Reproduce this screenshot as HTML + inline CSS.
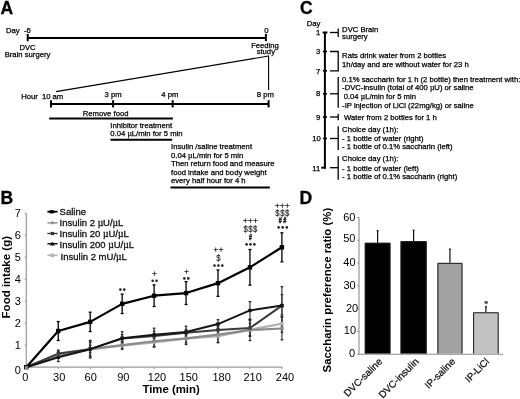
<!DOCTYPE html>
<html><head><meta charset="utf-8"><title>Figure</title>
<style>
html,body{margin:0;padding:0;background:#fff;}
body{width:520px;height:399px;overflow:hidden;}
svg{display:block;font-family:"Liberation Sans",sans-serif;filter:grayscale(1);}
</style></head>
<body>
<svg width="520" height="399" viewBox="0 0 520 399">
<rect width="520" height="399" fill="#fff"/>
<text x="0.50" y="14.20" font-size="17.50" font-weight="bold" fill="#000" stroke="#000" stroke-width="0.30">A</text>
<text x="0.40" y="203.80" font-size="17.50" font-weight="bold" fill="#000" stroke="#000" stroke-width="0.30">B</text>
<text x="299.90" y="14.30" font-size="17.50" font-weight="bold" fill="#000" stroke="#000" stroke-width="0.30">C</text>
<text x="299.60" y="203.90" font-size="17.50" font-weight="bold" fill="#000" stroke="#000" stroke-width="0.30">D</text>
<text x="6.00" y="32.70" font-size="7.68" fill="#000" stroke="#000" stroke-width="0.25">Day</text>
<text x="24.00" y="32.70" font-size="7.68" fill="#000" stroke="#000" stroke-width="0.25">-6</text>
<line x1="27.70" y1="37.90" x2="265.90" y2="37.90" stroke="#000" stroke-width="2.00"/>
<line x1="27.70" y1="34.00" x2="27.70" y2="41.20" stroke="#000" stroke-width="2.00"/>
<line x1="265.90" y1="34.00" x2="265.90" y2="41.20" stroke="#000" stroke-width="2.00"/>
<text x="266.50" y="32.80" font-size="7.68" text-anchor="middle" fill="#000" stroke="#000" stroke-width="0.25">0</text>
<text x="27.50" y="49.90" font-size="7.68" text-anchor="middle" fill="#000" stroke="#000" stroke-width="0.25">DVC</text>
<text x="27.50" y="56.50" font-size="7.68" text-anchor="middle" fill="#000" stroke="#000" stroke-width="0.25">Brain surgery</text>
<text x="265.00" y="47.60" font-size="7.68" text-anchor="middle" fill="#000" stroke="#000" stroke-width="0.25">Feeding</text>
<text x="265.80" y="53.80" font-size="7.68" text-anchor="middle" fill="#000" stroke="#000" stroke-width="0.25">study</text>
<line x1="56.00" y1="91.60" x2="268.60" y2="56.00" stroke="#000" stroke-width="1.10"/>
<line x1="268.60" y1="55.60" x2="268.60" y2="90.00" stroke="#000" stroke-width="1.10"/>
<text x="21.30" y="98.70" font-size="7.68" fill="#000" stroke="#000" stroke-width="0.25">Hour</text>
<text x="41.90" y="98.70" font-size="7.68" fill="#000" stroke="#000" stroke-width="0.25">10 am</text>
<text x="113.10" y="97.30" font-size="7.68" text-anchor="middle" fill="#000" stroke="#000" stroke-width="0.25">3 pm</text>
<text x="169.80" y="97.30" font-size="7.68" text-anchor="middle" fill="#000" stroke="#000" stroke-width="0.25">4 pm</text>
<text x="265.40" y="96.70" font-size="7.68" text-anchor="middle" fill="#000" stroke="#000" stroke-width="0.25">8 pm</text>
<line x1="51.00" y1="103.90" x2="268.60" y2="103.90" stroke="#000" stroke-width="2.00"/>
<line x1="51.00" y1="100.20" x2="51.00" y2="107.40" stroke="#000" stroke-width="2.00"/>
<line x1="113.10" y1="100.20" x2="113.10" y2="107.40" stroke="#000" stroke-width="2.00"/>
<line x1="172.70" y1="100.20" x2="172.70" y2="107.40" stroke="#000" stroke-width="2.00"/>
<line x1="268.60" y1="100.20" x2="268.60" y2="107.40" stroke="#000" stroke-width="2.00"/>
<text x="82.80" y="115.80" font-size="7.68" fill="#000" stroke="#000" stroke-width="0.25">Remove food</text>
<line x1="49.20" y1="118.50" x2="172.90" y2="118.50" stroke="#000" stroke-width="2.00"/>
<text x="110.30" y="127.50" font-size="7.68" fill="#000" stroke="#000" stroke-width="0.25">Inhibitor treatment</text>
<text x="110.30" y="135.90" font-size="7.68" fill="#000" stroke="#000" stroke-width="0.25">0.04 <tspan font-family="Liberation Serif">µ</tspan>L/min for 5 min</text>
<line x1="110.50" y1="139.70" x2="172.20" y2="139.70" stroke="#000" stroke-width="2.00"/>
<text x="171.00" y="149.00" font-size="7.68" fill="#000" stroke="#000" stroke-width="0.25">Insulin /saline treatment</text>
<text x="171.00" y="157.50" font-size="7.68" fill="#000" stroke="#000" stroke-width="0.25">0.04 <tspan font-family="Liberation Serif">µ</tspan>L/min for 5 min</text>
<text x="171.00" y="166.00" font-size="7.68" fill="#000" stroke="#000" stroke-width="0.25">Then return food and measure</text>
<text x="171.00" y="174.50" font-size="7.68" fill="#000" stroke="#000" stroke-width="0.25">food intake and body weight</text>
<text x="171.00" y="183.00" font-size="7.68" fill="#000" stroke="#000" stroke-width="0.25">every half hour for 4 h</text>
<line x1="170.50" y1="187.60" x2="269.80" y2="187.60" stroke="#000" stroke-width="2.00"/>
<text x="306.80" y="25.70" font-size="7.68" fill="#000" stroke="#000" stroke-width="0.25">Day</text>
<line x1="324.90" y1="32.30" x2="324.90" y2="168.60" stroke="#000" stroke-width="2.00"/>
<line x1="322.60" y1="32.50" x2="327.40" y2="32.50" stroke="#000" stroke-width="2.00"/>
<line x1="321.30" y1="167.70" x2="325.90" y2="167.70" stroke="#000" stroke-width="2.00"/>
<text x="320.30" y="35.10" font-size="7.68" text-anchor="end" fill="#000" stroke="#000" stroke-width="0.25">1</text>
<text x="320.30" y="54.10" font-size="7.68" text-anchor="end" fill="#000" stroke="#000" stroke-width="0.25">3</text>
<line x1="322.90" y1="51.50" x2="327.00" y2="51.50" stroke="#000" stroke-width="1.60"/>
<text x="320.30" y="74.10" font-size="7.68" text-anchor="end" fill="#000" stroke="#000" stroke-width="0.25">7</text>
<line x1="322.90" y1="70.80" x2="327.00" y2="70.80" stroke="#000" stroke-width="1.60"/>
<text x="320.30" y="96.40" font-size="7.68" text-anchor="end" fill="#000" stroke="#000" stroke-width="0.25">8</text>
<line x1="322.90" y1="93.80" x2="327.00" y2="93.80" stroke="#000" stroke-width="1.60"/>
<text x="320.30" y="119.60" font-size="7.68" text-anchor="end" fill="#000" stroke="#000" stroke-width="0.25">9</text>
<line x1="322.90" y1="117.00" x2="327.00" y2="117.00" stroke="#000" stroke-width="1.60"/>
<text x="320.70" y="141.10" font-size="7.68" text-anchor="end" fill="#000" stroke="#000" stroke-width="0.25">10</text>
<line x1="322.90" y1="138.50" x2="327.00" y2="138.50" stroke="#000" stroke-width="1.60"/>
<text x="320.30" y="171.00" font-size="7.68" text-anchor="end" fill="#000" stroke="#000" stroke-width="0.25">11</text>
<line x1="330.00" y1="32.50" x2="338.20" y2="32.50" stroke="#000" stroke-width="1.30"/>
<line x1="338.20" y1="28.50" x2="338.20" y2="37.00" stroke="#000" stroke-width="1.30"/>
<polyline points="330.00,51.50 338.20,51.50 338.20,70.80 330.00,70.80" fill="none" stroke="#000" stroke-width="1.30"/>
<line x1="330.00" y1="93.80" x2="338.20" y2="93.80" stroke="#000" stroke-width="1.30"/>
<line x1="338.20" y1="76.90" x2="338.20" y2="107.70" stroke="#000" stroke-width="1.30"/>
<line x1="330.00" y1="117.00" x2="338.20" y2="117.00" stroke="#000" stroke-width="1.30"/>
<line x1="338.20" y1="113.80" x2="338.20" y2="120.20" stroke="#000" stroke-width="1.30"/>
<line x1="330.00" y1="138.50" x2="338.20" y2="138.50" stroke="#000" stroke-width="1.30"/>
<line x1="338.20" y1="126.20" x2="338.20" y2="150.00" stroke="#000" stroke-width="1.30"/>
<line x1="330.00" y1="167.70" x2="338.20" y2="167.70" stroke="#000" stroke-width="1.30"/>
<line x1="338.20" y1="156.00" x2="338.20" y2="179.70" stroke="#000" stroke-width="1.30"/>
<text x="342.10" y="32.00" font-size="7.68" fill="#000" stroke="#000" stroke-width="0.25">DVC Brain</text>
<text x="342.10" y="38.50" font-size="7.68" fill="#000" stroke="#000" stroke-width="0.25">surgery</text>
<text x="342.10" y="58.20" font-size="7.68" fill="#000" stroke="#000" stroke-width="0.25">Rats drink water from 2 bottles</text>
<text x="342.10" y="67.00" font-size="7.68" fill="#000" stroke="#000" stroke-width="0.25">1h/day and are without water for 23 h</text>
<text x="342.10" y="81.50" font-size="7.68" fill="#000" stroke="#000" stroke-width="0.25">0.1% saccharin for 1 h (2 bottle) then treatment with:</text>
<text x="342.10" y="90.30" font-size="7.68" fill="#000" stroke="#000" stroke-width="0.25">-DVC-insulin (total of 400 <tspan font-family="Liberation Serif">µ</tspan>U) or saline</text>
<text x="343.70" y="99.20" font-size="7.68" fill="#000" stroke="#000" stroke-width="0.25">0.04 <tspan font-family="Liberation Serif">µ</tspan>L/min for 5 min</text>
<text x="342.10" y="108.20" font-size="7.68" fill="#000" stroke="#000" stroke-width="0.25">-IP injection of LiCl (22mg/kg) or saline</text>
<text x="344.10" y="119.50" font-size="7.68" fill="#000" stroke="#000" stroke-width="0.25">Water from 2 bottles for 1 h</text>
<text x="342.10" y="131.50" font-size="7.68" fill="#000" stroke="#000" stroke-width="0.25">Choice day (1h):</text>
<text x="342.10" y="140.80" font-size="7.68" fill="#000" stroke="#000" stroke-width="0.25">- 1 bottle of water (right)</text>
<text x="342.10" y="149.30" font-size="7.68" fill="#000" stroke="#000" stroke-width="0.25">- 1 bottle of 0.1% saccharin (left)</text>
<text x="342.10" y="161.20" font-size="7.68" fill="#000" stroke="#000" stroke-width="0.25">Choice day (1h):</text>
<text x="342.10" y="170.50" font-size="7.68" fill="#000" stroke="#000" stroke-width="0.25">- 1 bottle of water (left)</text>
<text x="342.10" y="178.70" font-size="7.68" fill="#000" stroke="#000" stroke-width="0.25">- 1 bottle of 0.1% saccharin (right)</text>
<line x1="26.30" y1="213.30" x2="26.30" y2="367.70" stroke="#9a9a9a" stroke-width="1.20"/>
<line x1="25.80" y1="367.20" x2="282.60" y2="367.20" stroke="#9a9a9a" stroke-width="1.20"/>
<line x1="24.60" y1="345.20" x2="26.30" y2="345.20" stroke="#9a9a9a" stroke-width="1.00"/>
<line x1="24.60" y1="323.20" x2="26.30" y2="323.20" stroke="#9a9a9a" stroke-width="1.00"/>
<line x1="24.60" y1="301.20" x2="26.30" y2="301.20" stroke="#9a9a9a" stroke-width="1.00"/>
<line x1="24.60" y1="279.20" x2="26.30" y2="279.20" stroke="#9a9a9a" stroke-width="1.00"/>
<line x1="24.60" y1="257.20" x2="26.30" y2="257.20" stroke="#9a9a9a" stroke-width="1.00"/>
<line x1="24.60" y1="235.20" x2="26.30" y2="235.20" stroke="#9a9a9a" stroke-width="1.00"/>
<line x1="24.60" y1="213.20" x2="26.30" y2="213.20" stroke="#9a9a9a" stroke-width="1.00"/>
<line x1="58.25" y1="367.20" x2="58.25" y2="369.00" stroke="#9a9a9a" stroke-width="1.00"/>
<line x1="90.20" y1="367.20" x2="90.20" y2="369.00" stroke="#9a9a9a" stroke-width="1.00"/>
<line x1="122.15" y1="367.20" x2="122.15" y2="369.00" stroke="#9a9a9a" stroke-width="1.00"/>
<line x1="154.10" y1="367.20" x2="154.10" y2="369.00" stroke="#9a9a9a" stroke-width="1.00"/>
<line x1="186.05" y1="367.20" x2="186.05" y2="369.00" stroke="#9a9a9a" stroke-width="1.00"/>
<line x1="218.00" y1="367.20" x2="218.00" y2="369.00" stroke="#9a9a9a" stroke-width="1.00"/>
<line x1="249.95" y1="367.20" x2="249.95" y2="369.00" stroke="#9a9a9a" stroke-width="1.00"/>
<line x1="281.90" y1="367.20" x2="281.90" y2="369.00" stroke="#9a9a9a" stroke-width="1.00"/>
<text x="20.80" y="373.50" font-size="11.00" text-anchor="end" fill="#000">0</text>
<text x="20.80" y="349.10" font-size="11.00" text-anchor="end" fill="#000">1</text>
<text x="20.80" y="327.10" font-size="11.00" text-anchor="end" fill="#000">2</text>
<text x="20.80" y="305.10" font-size="11.00" text-anchor="end" fill="#000">3</text>
<text x="20.80" y="283.10" font-size="11.00" text-anchor="end" fill="#000">4</text>
<text x="20.80" y="261.10" font-size="11.00" text-anchor="end" fill="#000">5</text>
<text x="20.80" y="239.10" font-size="11.00" text-anchor="end" fill="#000">6</text>
<text x="20.80" y="217.10" font-size="11.00" text-anchor="end" fill="#000">7</text>
<text x="25.40" y="380.80" font-size="11.00" text-anchor="middle" fill="#000">0</text>
<text x="59.20" y="380.80" font-size="11.00" text-anchor="middle" fill="#000">30</text>
<text x="90.70" y="380.80" font-size="11.00" text-anchor="middle" fill="#000">60</text>
<text x="123.30" y="380.80" font-size="11.00" text-anchor="middle" fill="#000">90</text>
<text x="157.00" y="380.80" font-size="11.00" text-anchor="middle" fill="#000">120</text>
<text x="188.80" y="380.80" font-size="11.00" text-anchor="middle" fill="#000">150</text>
<text x="221.60" y="380.80" font-size="11.00" text-anchor="middle" fill="#000">180</text>
<text x="252.60" y="380.80" font-size="11.00" text-anchor="middle" fill="#000">210</text>
<text x="285.00" y="380.80" font-size="11.00" text-anchor="middle" fill="#000">240</text>
<text x="171.10" y="393.20" font-size="11.40" font-weight="bold" text-anchor="middle" fill="#000">Time (min)</text>
<text transform="translate(10.0,277.2) rotate(-90)" font-size="11.5" font-weight="bold" text-anchor="middle" fill="#000">Food intake (g)</text>
<polyline points="26.30,367.20 58.25,354.66 90.20,349.16 122.15,345.64 154.10,342.34 186.05,338.60 218.00,335.96 249.95,329.80 281.90,323.64" fill="none" stroke="#b4b4b4" stroke-width="2.40" stroke-linejoin="round"/>
<polyline points="26.30,367.20 58.25,355.10 90.20,349.16 122.15,345.20 154.10,341.24 186.05,338.38 218.00,334.64 249.95,330.02 281.90,328.48" fill="none" stroke="#8a8a8a" stroke-width="2.20" stroke-linejoin="round"/>
<polyline points="26.30,367.20 58.25,353.56 90.20,349.16 122.15,338.60 154.10,335.96 186.05,332.66 218.00,330.02 249.95,328.04 281.90,305.60" fill="none" stroke="#3a3a3a" stroke-width="2.00" stroke-linejoin="round"/>
<polyline points="26.30,367.20 58.25,357.30 90.20,349.16 122.15,338.16 154.10,334.86 186.05,332.00 218.00,324.08 249.95,310.44 281.90,305.60" fill="none" stroke="#151515" stroke-width="2.00" stroke-linejoin="round"/>
<line x1="58.25" y1="351.36" x2="58.25" y2="357.96" stroke="#3a3a3a" stroke-width="1.20"/>
<line x1="56.95" y1="351.36" x2="59.55" y2="351.36" stroke="#222" stroke-width="1.30"/>
<line x1="56.95" y1="357.96" x2="59.55" y2="357.96" stroke="#222" stroke-width="1.30"/>
<line x1="90.20" y1="342.56" x2="90.20" y2="355.76" stroke="#3a3a3a" stroke-width="1.20"/>
<line x1="88.90" y1="342.56" x2="91.50" y2="342.56" stroke="#222" stroke-width="1.30"/>
<line x1="88.90" y1="355.76" x2="91.50" y2="355.76" stroke="#222" stroke-width="1.30"/>
<line x1="122.15" y1="342.34" x2="122.15" y2="348.94" stroke="#3a3a3a" stroke-width="1.20"/>
<line x1="120.85" y1="342.34" x2="123.45" y2="342.34" stroke="#222" stroke-width="1.30"/>
<line x1="120.85" y1="348.94" x2="123.45" y2="348.94" stroke="#222" stroke-width="1.30"/>
<line x1="154.10" y1="337.94" x2="154.10" y2="346.74" stroke="#3a3a3a" stroke-width="1.20"/>
<line x1="152.80" y1="337.94" x2="155.40" y2="337.94" stroke="#222" stroke-width="1.30"/>
<line x1="152.80" y1="346.74" x2="155.40" y2="346.74" stroke="#222" stroke-width="1.30"/>
<line x1="186.05" y1="334.20" x2="186.05" y2="343.00" stroke="#3a3a3a" stroke-width="1.20"/>
<line x1="184.75" y1="334.20" x2="187.35" y2="334.20" stroke="#222" stroke-width="1.30"/>
<line x1="184.75" y1="343.00" x2="187.35" y2="343.00" stroke="#222" stroke-width="1.30"/>
<line x1="218.00" y1="329.36" x2="218.00" y2="342.56" stroke="#3a3a3a" stroke-width="1.20"/>
<line x1="216.70" y1="329.36" x2="219.30" y2="329.36" stroke="#222" stroke-width="1.30"/>
<line x1="216.70" y1="342.56" x2="219.30" y2="342.56" stroke="#222" stroke-width="1.30"/>
<line x1="249.95" y1="323.20" x2="249.95" y2="336.40" stroke="#3a3a3a" stroke-width="1.20"/>
<line x1="248.65" y1="323.20" x2="251.25" y2="323.20" stroke="#222" stroke-width="1.30"/>
<line x1="248.65" y1="336.40" x2="251.25" y2="336.40" stroke="#222" stroke-width="1.30"/>
<line x1="281.90" y1="314.84" x2="281.90" y2="332.44" stroke="#3a3a3a" stroke-width="1.20"/>
<line x1="280.60" y1="314.84" x2="283.20" y2="314.84" stroke="#222" stroke-width="1.30"/>
<line x1="280.60" y1="332.44" x2="283.20" y2="332.44" stroke="#222" stroke-width="1.30"/>
<line x1="58.25" y1="351.80" x2="58.25" y2="358.40" stroke="#3a3a3a" stroke-width="1.20"/>
<line x1="56.95" y1="351.80" x2="59.55" y2="351.80" stroke="#222" stroke-width="1.30"/>
<line x1="56.95" y1="358.40" x2="59.55" y2="358.40" stroke="#222" stroke-width="1.30"/>
<line x1="90.20" y1="341.46" x2="90.20" y2="356.86" stroke="#3a3a3a" stroke-width="1.20"/>
<line x1="88.90" y1="341.46" x2="91.50" y2="341.46" stroke="#222" stroke-width="1.30"/>
<line x1="88.90" y1="356.86" x2="91.50" y2="356.86" stroke="#222" stroke-width="1.30"/>
<line x1="122.15" y1="341.46" x2="122.15" y2="348.94" stroke="#3a3a3a" stroke-width="1.20"/>
<line x1="120.85" y1="341.46" x2="123.45" y2="341.46" stroke="#222" stroke-width="1.30"/>
<line x1="120.85" y1="348.94" x2="123.45" y2="348.94" stroke="#222" stroke-width="1.30"/>
<line x1="154.10" y1="335.52" x2="154.10" y2="346.96" stroke="#3a3a3a" stroke-width="1.20"/>
<line x1="152.80" y1="335.52" x2="155.40" y2="335.52" stroke="#222" stroke-width="1.30"/>
<line x1="152.80" y1="346.96" x2="155.40" y2="346.96" stroke="#222" stroke-width="1.30"/>
<line x1="186.05" y1="332.22" x2="186.05" y2="344.54" stroke="#3a3a3a" stroke-width="1.20"/>
<line x1="184.75" y1="332.22" x2="187.35" y2="332.22" stroke="#222" stroke-width="1.30"/>
<line x1="184.75" y1="344.54" x2="187.35" y2="344.54" stroke="#222" stroke-width="1.30"/>
<line x1="218.00" y1="326.72" x2="218.00" y2="342.56" stroke="#3a3a3a" stroke-width="1.20"/>
<line x1="216.70" y1="326.72" x2="219.30" y2="326.72" stroke="#222" stroke-width="1.30"/>
<line x1="216.70" y1="342.56" x2="219.30" y2="342.56" stroke="#222" stroke-width="1.30"/>
<line x1="249.95" y1="319.46" x2="249.95" y2="340.58" stroke="#3a3a3a" stroke-width="1.20"/>
<line x1="248.65" y1="319.46" x2="251.25" y2="319.46" stroke="#222" stroke-width="1.30"/>
<line x1="248.65" y1="340.58" x2="251.25" y2="340.58" stroke="#222" stroke-width="1.30"/>
<line x1="281.90" y1="317.15" x2="281.90" y2="339.81" stroke="#3a3a3a" stroke-width="1.20"/>
<line x1="280.60" y1="317.15" x2="283.20" y2="317.15" stroke="#222" stroke-width="1.30"/>
<line x1="280.60" y1="339.81" x2="283.20" y2="339.81" stroke="#222" stroke-width="1.30"/>
<line x1="58.25" y1="350.04" x2="58.25" y2="357.08" stroke="#3a3a3a" stroke-width="1.20"/>
<line x1="56.95" y1="350.04" x2="59.55" y2="350.04" stroke="#222" stroke-width="1.30"/>
<line x1="56.95" y1="357.08" x2="59.55" y2="357.08" stroke="#222" stroke-width="1.30"/>
<line x1="90.20" y1="345.42" x2="90.20" y2="352.90" stroke="#3a3a3a" stroke-width="1.20"/>
<line x1="88.90" y1="345.42" x2="91.50" y2="345.42" stroke="#222" stroke-width="1.30"/>
<line x1="88.90" y1="352.90" x2="91.50" y2="352.90" stroke="#222" stroke-width="1.30"/>
<line x1="122.15" y1="334.64" x2="122.15" y2="342.56" stroke="#3a3a3a" stroke-width="1.20"/>
<line x1="120.85" y1="334.64" x2="123.45" y2="334.64" stroke="#222" stroke-width="1.30"/>
<line x1="120.85" y1="342.56" x2="123.45" y2="342.56" stroke="#222" stroke-width="1.30"/>
<line x1="154.10" y1="331.12" x2="154.10" y2="340.80" stroke="#3a3a3a" stroke-width="1.20"/>
<line x1="152.80" y1="331.12" x2="155.40" y2="331.12" stroke="#222" stroke-width="1.30"/>
<line x1="152.80" y1="340.80" x2="155.40" y2="340.80" stroke="#222" stroke-width="1.30"/>
<line x1="186.05" y1="329.36" x2="186.05" y2="335.96" stroke="#3a3a3a" stroke-width="1.20"/>
<line x1="184.75" y1="329.36" x2="187.35" y2="329.36" stroke="#222" stroke-width="1.30"/>
<line x1="184.75" y1="335.96" x2="187.35" y2="335.96" stroke="#222" stroke-width="1.30"/>
<line x1="218.00" y1="323.42" x2="218.00" y2="336.62" stroke="#3a3a3a" stroke-width="1.20"/>
<line x1="216.70" y1="323.42" x2="219.30" y2="323.42" stroke="#222" stroke-width="1.30"/>
<line x1="216.70" y1="336.62" x2="219.30" y2="336.62" stroke="#222" stroke-width="1.30"/>
<line x1="249.95" y1="320.34" x2="249.95" y2="335.74" stroke="#3a3a3a" stroke-width="1.20"/>
<line x1="248.65" y1="320.34" x2="251.25" y2="320.34" stroke="#222" stroke-width="1.30"/>
<line x1="248.65" y1="335.74" x2="251.25" y2="335.74" stroke="#222" stroke-width="1.30"/>
<line x1="281.90" y1="294.60" x2="281.90" y2="316.60" stroke="#3a3a3a" stroke-width="1.20"/>
<line x1="280.60" y1="294.60" x2="283.20" y2="294.60" stroke="#222" stroke-width="1.30"/>
<line x1="280.60" y1="316.60" x2="283.20" y2="316.60" stroke="#222" stroke-width="1.30"/>
<line x1="58.25" y1="353.12" x2="58.25" y2="361.48" stroke="#3a3a3a" stroke-width="1.20"/>
<line x1="56.95" y1="353.12" x2="59.55" y2="353.12" stroke="#222" stroke-width="1.30"/>
<line x1="56.95" y1="361.48" x2="59.55" y2="361.48" stroke="#222" stroke-width="1.30"/>
<line x1="90.20" y1="340.36" x2="90.20" y2="357.96" stroke="#3a3a3a" stroke-width="1.20"/>
<line x1="88.90" y1="340.36" x2="91.50" y2="340.36" stroke="#222" stroke-width="1.30"/>
<line x1="88.90" y1="357.96" x2="91.50" y2="357.96" stroke="#222" stroke-width="1.30"/>
<line x1="122.15" y1="331.78" x2="122.15" y2="344.54" stroke="#3a3a3a" stroke-width="1.20"/>
<line x1="120.85" y1="331.78" x2="123.45" y2="331.78" stroke="#222" stroke-width="1.30"/>
<line x1="120.85" y1="344.54" x2="123.45" y2="344.54" stroke="#222" stroke-width="1.30"/>
<line x1="154.10" y1="328.26" x2="154.10" y2="341.46" stroke="#3a3a3a" stroke-width="1.20"/>
<line x1="152.80" y1="328.26" x2="155.40" y2="328.26" stroke="#222" stroke-width="1.30"/>
<line x1="152.80" y1="341.46" x2="155.40" y2="341.46" stroke="#222" stroke-width="1.30"/>
<line x1="186.05" y1="326.28" x2="186.05" y2="337.72" stroke="#3a3a3a" stroke-width="1.20"/>
<line x1="184.75" y1="326.28" x2="187.35" y2="326.28" stroke="#222" stroke-width="1.30"/>
<line x1="184.75" y1="337.72" x2="187.35" y2="337.72" stroke="#222" stroke-width="1.30"/>
<line x1="218.00" y1="319.68" x2="218.00" y2="328.48" stroke="#3a3a3a" stroke-width="1.20"/>
<line x1="216.70" y1="319.68" x2="219.30" y2="319.68" stroke="#222" stroke-width="1.30"/>
<line x1="216.70" y1="328.48" x2="219.30" y2="328.48" stroke="#222" stroke-width="1.30"/>
<line x1="249.95" y1="301.64" x2="249.95" y2="319.24" stroke="#3a3a3a" stroke-width="1.20"/>
<line x1="248.65" y1="301.64" x2="251.25" y2="301.64" stroke="#222" stroke-width="1.30"/>
<line x1="248.65" y1="319.24" x2="251.25" y2="319.24" stroke="#222" stroke-width="1.30"/>
<line x1="281.90" y1="286.68" x2="281.90" y2="324.52" stroke="#3a3a3a" stroke-width="1.20"/>
<line x1="280.60" y1="286.68" x2="283.20" y2="286.68" stroke="#222" stroke-width="1.30"/>
<line x1="280.60" y1="324.52" x2="283.20" y2="324.52" stroke="#222" stroke-width="1.30"/>
<rect x="24.60" y="365.50" width="3.4" height="3.4" fill="#b4b4b4"/>
<rect x="56.55" y="352.96" width="3.4" height="3.4" fill="#b4b4b4"/>
<rect x="88.50" y="347.46" width="3.4" height="3.4" fill="#b4b4b4"/>
<rect x="120.45" y="343.94" width="3.4" height="3.4" fill="#b4b4b4"/>
<rect x="152.40" y="340.64" width="3.4" height="3.4" fill="#b4b4b4"/>
<rect x="184.35" y="336.90" width="3.4" height="3.4" fill="#b4b4b4"/>
<rect x="216.30" y="334.26" width="3.4" height="3.4" fill="#b4b4b4"/>
<rect x="248.25" y="328.10" width="3.4" height="3.4" fill="#b4b4b4"/>
<rect x="280.20" y="321.94" width="3.4" height="3.4" fill="#b4b4b4"/>
<rect x="24.60" y="365.50" width="3.4" height="3.4" fill="#8a8a8a"/>
<rect x="56.55" y="353.40" width="3.4" height="3.4" fill="#8a8a8a"/>
<rect x="88.50" y="347.46" width="3.4" height="3.4" fill="#8a8a8a"/>
<rect x="120.45" y="343.50" width="3.4" height="3.4" fill="#8a8a8a"/>
<rect x="152.40" y="339.54" width="3.4" height="3.4" fill="#8a8a8a"/>
<rect x="184.35" y="336.68" width="3.4" height="3.4" fill="#8a8a8a"/>
<rect x="216.30" y="332.94" width="3.4" height="3.4" fill="#8a8a8a"/>
<rect x="248.25" y="328.32" width="3.4" height="3.4" fill="#8a8a8a"/>
<rect x="280.20" y="326.78" width="3.4" height="3.4" fill="#8a8a8a"/>
<rect x="24.60" y="365.50" width="3.4" height="3.4" fill="#3a3a3a"/>
<rect x="56.55" y="351.86" width="3.4" height="3.4" fill="#3a3a3a"/>
<rect x="88.50" y="347.46" width="3.4" height="3.4" fill="#3a3a3a"/>
<rect x="120.45" y="336.90" width="3.4" height="3.4" fill="#3a3a3a"/>
<rect x="152.40" y="334.26" width="3.4" height="3.4" fill="#3a3a3a"/>
<rect x="184.35" y="330.96" width="3.4" height="3.4" fill="#3a3a3a"/>
<rect x="216.30" y="328.32" width="3.4" height="3.4" fill="#3a3a3a"/>
<rect x="248.25" y="326.34" width="3.4" height="3.4" fill="#3a3a3a"/>
<rect x="280.20" y="303.90" width="3.4" height="3.4" fill="#3a3a3a"/>
<rect x="24.60" y="365.50" width="3.4" height="3.4" fill="#151515"/>
<rect x="56.55" y="355.60" width="3.4" height="3.4" fill="#151515"/>
<rect x="88.50" y="347.46" width="3.4" height="3.4" fill="#151515"/>
<rect x="120.45" y="336.46" width="3.4" height="3.4" fill="#151515"/>
<rect x="152.40" y="333.16" width="3.4" height="3.4" fill="#151515"/>
<rect x="184.35" y="330.30" width="3.4" height="3.4" fill="#151515"/>
<rect x="216.30" y="322.38" width="3.4" height="3.4" fill="#151515"/>
<rect x="248.25" y="308.74" width="3.4" height="3.4" fill="#151515"/>
<rect x="280.20" y="303.90" width="3.4" height="3.4" fill="#151515"/>
<line x1="58.25" y1="321.55" x2="58.25" y2="340.47" stroke="#000" stroke-width="1.30"/>
<line x1="56.75" y1="321.55" x2="59.75" y2="321.55" stroke="#000" stroke-width="1.30"/>
<line x1="56.75" y1="340.47" x2="59.75" y2="340.47" stroke="#000" stroke-width="1.30"/>
<line x1="90.20" y1="312.20" x2="90.20" y2="331.56" stroke="#000" stroke-width="1.30"/>
<line x1="88.70" y1="312.20" x2="91.70" y2="312.20" stroke="#000" stroke-width="1.30"/>
<line x1="88.70" y1="331.56" x2="91.70" y2="331.56" stroke="#000" stroke-width="1.30"/>
<line x1="122.15" y1="294.16" x2="122.15" y2="313.52" stroke="#000" stroke-width="1.30"/>
<line x1="120.65" y1="294.16" x2="123.65" y2="294.16" stroke="#000" stroke-width="1.30"/>
<line x1="120.65" y1="313.52" x2="123.65" y2="313.52" stroke="#000" stroke-width="1.30"/>
<line x1="154.10" y1="284.92" x2="154.10" y2="306.48" stroke="#000" stroke-width="1.30"/>
<line x1="152.60" y1="284.92" x2="155.60" y2="284.92" stroke="#000" stroke-width="1.30"/>
<line x1="152.60" y1="306.48" x2="155.60" y2="306.48" stroke="#000" stroke-width="1.30"/>
<line x1="186.05" y1="281.62" x2="186.05" y2="304.50" stroke="#000" stroke-width="1.30"/>
<line x1="184.55" y1="281.62" x2="187.55" y2="281.62" stroke="#000" stroke-width="1.30"/>
<line x1="184.55" y1="304.50" x2="187.55" y2="304.50" stroke="#000" stroke-width="1.30"/>
<line x1="218.00" y1="269.96" x2="218.00" y2="296.36" stroke="#000" stroke-width="1.30"/>
<line x1="216.50" y1="269.96" x2="219.50" y2="269.96" stroke="#000" stroke-width="1.30"/>
<line x1="216.50" y1="296.36" x2="219.50" y2="296.36" stroke="#000" stroke-width="1.30"/>
<line x1="249.95" y1="249.50" x2="249.95" y2="285.14" stroke="#000" stroke-width="1.30"/>
<line x1="248.45" y1="249.50" x2="251.45" y2="249.50" stroke="#000" stroke-width="1.30"/>
<line x1="248.45" y1="285.14" x2="251.45" y2="285.14" stroke="#000" stroke-width="1.30"/>
<line x1="281.90" y1="232.78" x2="281.90" y2="261.82" stroke="#000" stroke-width="1.30"/>
<line x1="280.40" y1="232.78" x2="283.40" y2="232.78" stroke="#000" stroke-width="1.30"/>
<line x1="280.40" y1="261.82" x2="283.40" y2="261.82" stroke="#000" stroke-width="1.30"/>
<polyline points="26.30,367.20 58.25,331.01 90.20,321.88 122.15,303.84 154.10,295.70 186.05,293.06 218.00,283.16 249.95,267.32 281.90,247.30" fill="none" stroke="#000" stroke-width="2.20" stroke-linejoin="round"/>
<rect x="24.10" y="365.00" width="4.4" height="4.4" fill="#000"/>
<rect x="56.05" y="328.81" width="4.4" height="4.4" fill="#000"/>
<rect x="88.00" y="319.68" width="4.4" height="4.4" fill="#000"/>
<rect x="119.95" y="301.64" width="4.4" height="4.4" fill="#000"/>
<rect x="151.90" y="293.50" width="4.4" height="4.4" fill="#000"/>
<rect x="183.85" y="290.86" width="4.4" height="4.4" fill="#000"/>
<rect x="215.80" y="280.96" width="4.4" height="4.4" fill="#000"/>
<rect x="247.75" y="265.12" width="4.4" height="4.4" fill="#000"/>
<rect x="279.70" y="245.10" width="4.4" height="4.4" fill="#000"/>
<rect x="24.8" y="366.0" width="3.2" height="3.2" fill="#888"/>
<circle cx="120.35" cy="289.60" r="1.3" fill="#222"/>
<circle cx="124.25" cy="289.60" r="1.3" fill="#222"/>
<circle cx="152.65" cy="280.80" r="1.3" fill="#222"/>
<circle cx="156.55" cy="280.80" r="1.3" fill="#222"/>
<text transform="translate(154.50,276.30) scale(1.000,1)" font-size="9.00" font-family="Liberation Serif" text-anchor="middle" fill="#222" stroke="#222" stroke-width="0.30" letter-spacing="0.00">+</text>
<circle cx="184.35" cy="278.40" r="1.3" fill="#222"/>
<circle cx="188.25" cy="278.40" r="1.3" fill="#222"/>
<text transform="translate(186.45,274.20) scale(1.000,1)" font-size="9.00" font-family="Liberation Serif" text-anchor="middle" fill="#222" stroke="#222" stroke-width="0.30" letter-spacing="0.00">+</text>
<circle cx="214.50" cy="265.60" r="1.3" fill="#222"/>
<circle cx="218.40" cy="265.60" r="1.3" fill="#222"/>
<circle cx="222.30" cy="265.60" r="1.3" fill="#222"/>
<text transform="translate(218.40,261.20) scale(0.900,1)" font-size="8.60" font-family="Liberation Sans" text-anchor="middle" fill="#222" stroke="#222" stroke-width="0.15" letter-spacing="0.00">$</text>
<text transform="translate(218.40,251.80) scale(1.000,1)" font-size="9.00" font-family="Liberation Serif" text-anchor="middle" fill="#222" stroke="#222" stroke-width="0.30" letter-spacing="0.00">++</text>
<circle cx="246.60" cy="244.40" r="1.3" fill="#222"/>
<circle cx="250.50" cy="244.40" r="1.3" fill="#222"/>
<circle cx="254.40" cy="244.40" r="1.3" fill="#222"/>
<text transform="translate(250.35,239.60) scale(0.750,1)" font-size="7.50" font-family="Liberation Serif" text-anchor="middle" fill="#222" stroke="#222" stroke-width="0.50" letter-spacing="0.00">#</text>
<text transform="translate(250.65,232.00) scale(0.900,1)" font-size="8.60" font-family="Liberation Sans" text-anchor="middle" fill="#222" stroke="#222" stroke-width="0.15" letter-spacing="0.60">$$$</text>
<text transform="translate(250.35,223.10) scale(1.000,1)" font-size="9.00" font-family="Liberation Serif" text-anchor="middle" fill="#222" stroke="#222" stroke-width="0.30" letter-spacing="0.00">+++</text>
<circle cx="278.60" cy="227.40" r="1.3" fill="#222"/>
<circle cx="282.70" cy="227.40" r="1.3" fill="#222"/>
<circle cx="286.80" cy="227.40" r="1.3" fill="#222"/>
<text transform="translate(283.20,222.60) scale(0.800,1)" font-size="7.50" font-family="Liberation Serif" text-anchor="middle" fill="#222" stroke="#222" stroke-width="0.50" letter-spacing="1.80">##</text>
<text transform="translate(282.60,215.60) scale(0.900,1)" font-size="8.60" font-family="Liberation Sans" text-anchor="middle" fill="#222" stroke="#222" stroke-width="0.15" letter-spacing="0.60">$$$</text>
<text transform="translate(282.30,207.80) scale(1.000,1)" font-size="9.00" font-family="Liberation Serif" text-anchor="middle" fill="#222" stroke="#222" stroke-width="0.30" letter-spacing="0.00">+++</text>
<line x1="47.40" y1="211.70" x2="57.60" y2="211.70" stroke="#000" stroke-width="1.80"/>
<ellipse cx="51.8" cy="211.70" rx="2.9" ry="1.8" fill="#000"/>
<text x="59.60" y="214.90" font-size="9.50" fill="#111" stroke="#111" stroke-width="0.30">Saline</text>
<line x1="47.40" y1="222.90" x2="57.60" y2="222.90" stroke="#8f8f8f" stroke-width="1.40"/>
<polygon points="52.40,221.00 54.60,222.90 52.40,224.80 50.20,222.90" fill="#8f8f8f"/>
<text x="59.60" y="225.90" font-size="9.50" fill="#111" stroke="#111" stroke-width="0.30">Insulin 2 <tspan font-family="Liberation Serif" font-weight="normal">µ</tspan>U/<tspan font-family="Liberation Serif" font-weight="normal">µ</tspan>L</text>
<line x1="47.40" y1="233.50" x2="57.60" y2="233.50" stroke="#333" stroke-width="1.40"/>
<rect x="50.80" y="231.90" width="3.2" height="3.2" fill="#333"/>
<text x="59.60" y="236.90" font-size="9.50" fill="#111" stroke="#111" stroke-width="0.30">Insulin 20 <tspan font-family="Liberation Serif" font-weight="normal">µ</tspan>U/<tspan font-family="Liberation Serif" font-weight="normal">µ</tspan>L</text>
<line x1="47.40" y1="243.70" x2="57.60" y2="243.70" stroke="#111" stroke-width="1.50"/>
<polygon points="52.30,241.50 54.80,245.40 49.80,245.40" fill="#111"/>
<text x="59.60" y="247.90" font-size="9.50" fill="#111" stroke="#111" stroke-width="0.30">Insulin 200 <tspan font-family="Liberation Serif" font-weight="normal">µ</tspan>U/<tspan font-family="Liberation Serif" font-weight="normal">µ</tspan>L</text>
<line x1="47.40" y1="255.30" x2="57.60" y2="255.30" stroke="#b4b4b4" stroke-width="1.60"/>
<circle cx="52.4" cy="255.30" r="2.1" fill="#b4b4b4"/>
<text x="60.60" y="259.80" font-size="9.50" fill="#111" stroke="#111" stroke-width="0.30">Insulin 2 mU/<tspan font-family="Liberation Serif" font-weight="normal">µ</tspan>L</text>
<line x1="359.00" y1="217.30" x2="359.00" y2="354.70" stroke="#8c8c8c" stroke-width="1.10"/>
<line x1="357.20" y1="354.20" x2="359.00" y2="354.20" stroke="#8c8c8c" stroke-width="1.00"/>
<text x="355.00" y="357.00" font-size="11.00" text-anchor="end" fill="#000">0</text>
<line x1="357.20" y1="331.42" x2="359.00" y2="331.42" stroke="#8c8c8c" stroke-width="1.00"/>
<text x="356.10" y="334.30" font-size="11.00" text-anchor="end" fill="#000">10</text>
<line x1="357.20" y1="308.64" x2="359.00" y2="308.64" stroke="#8c8c8c" stroke-width="1.00"/>
<text x="358.20" y="312.00" font-size="11.00" text-anchor="end" fill="#000">20</text>
<line x1="357.20" y1="285.86" x2="359.00" y2="285.86" stroke="#8c8c8c" stroke-width="1.00"/>
<text x="355.70" y="289.30" font-size="11.00" text-anchor="end" fill="#000">30</text>
<line x1="357.20" y1="263.08" x2="359.00" y2="263.08" stroke="#8c8c8c" stroke-width="1.00"/>
<text x="355.60" y="266.20" font-size="11.00" text-anchor="end" fill="#000">40</text>
<line x1="357.20" y1="240.30" x2="359.00" y2="240.30" stroke="#8c8c8c" stroke-width="1.00"/>
<text x="355.50" y="241.60" font-size="11.00" text-anchor="end" fill="#000">50</text>
<line x1="357.20" y1="217.52" x2="359.00" y2="217.52" stroke="#8c8c8c" stroke-width="1.00"/>
<text x="355.50" y="220.60" font-size="11.00" text-anchor="end" fill="#000">60</text>
<line x1="377.60" y1="230.73" x2="377.60" y2="242.81" stroke="#111" stroke-width="1.20"/>
<line x1="376.60" y1="230.73" x2="378.60" y2="230.73" stroke="#111" stroke-width="1.20"/>
<rect x="364.80" y="242.81" width="25.60" height="110.89" fill="#000"/>
<polyline points="365.30,353.70 365.30,243.31 389.90,243.31 389.90,353.70" fill="none" stroke="#1a1a1a" stroke-width="1.00"/>
<line x1="413.60" y1="230.28" x2="413.60" y2="241.21" stroke="#111" stroke-width="1.20"/>
<line x1="412.60" y1="230.28" x2="414.60" y2="230.28" stroke="#111" stroke-width="1.20"/>
<rect x="400.60" y="241.21" width="26.00" height="112.49" fill="#000"/>
<polyline points="401.10,353.70 401.10,241.71 426.10,241.71 426.10,353.70" fill="none" stroke="#1a1a1a" stroke-width="1.00"/>
<line x1="449.95" y1="249.18" x2="449.95" y2="262.85" stroke="#111" stroke-width="1.20"/>
<line x1="448.95" y1="249.18" x2="450.95" y2="249.18" stroke="#111" stroke-width="1.20"/>
<rect x="437.40" y="262.85" width="25.10" height="90.85" fill="#a2a2a2"/>
<polyline points="437.90,353.70 437.90,263.35 462.00,263.35 462.00,353.70" fill="none" stroke="#1a1a1a" stroke-width="1.00"/>
<line x1="485.90" y1="306.82" x2="485.90" y2="312.28" stroke="#111" stroke-width="1.20"/>
<line x1="484.90" y1="306.82" x2="486.90" y2="306.82" stroke="#111" stroke-width="1.20"/>
<rect x="473.10" y="312.28" width="25.60" height="41.42" fill="#c2c2c2"/>
<polyline points="473.60,353.70 473.60,312.78 498.20,312.78 498.20,353.70" fill="none" stroke="#1a1a1a" stroke-width="1.00"/>
<line x1="358.50" y1="354.20" x2="502.80" y2="354.20" stroke="#8c8c8c" stroke-width="1.10"/>
<text x="486.00" y="306.60" font-size="7.50" text-anchor="middle" font-family="Liberation Serif" fill="#222" stroke="#222" stroke-width="0.25">*</text>
<text transform="translate(378.20,357.6) rotate(-45)" font-size="9.8" text-anchor="end" fill="#111" stroke="#111" stroke-width="0.25" dy="6.5">DVC-saline</text>
<text transform="translate(414.70,357.6) rotate(-45)" font-size="9.8" text-anchor="end" fill="#111" stroke="#111" stroke-width="0.25" dy="6.5">DVC-insulin</text>
<text transform="translate(451.20,357.6) rotate(-45)" font-size="9.8" text-anchor="end" fill="#111" stroke="#111" stroke-width="0.25" dy="6.5">IP-saline</text>
<text transform="translate(485.20,357.6) rotate(-45)" font-size="9.8" text-anchor="end" fill="#111" stroke="#111" stroke-width="0.25" dy="6.5">IP-LiCl</text>
<text transform="translate(330.8,290.1) rotate(-90)" font-size="11.4" font-weight="bold" text-anchor="middle" fill="#000">Saccharin preference ratio (%)</text>
</svg>
</body></html>
